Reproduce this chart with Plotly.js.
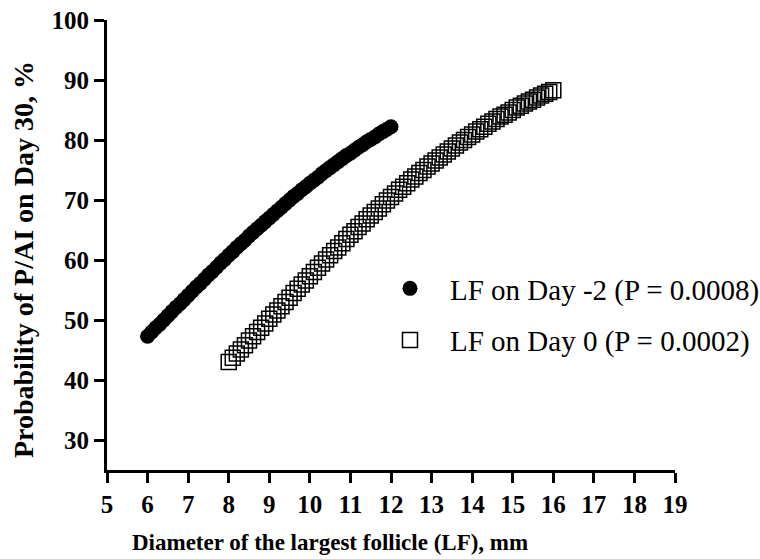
<!DOCTYPE html>
<html>
<head>
<meta charset="utf-8">
<script src="https://cdn.plot.ly/plotly-3.0.1.min.js"></script>
<style>html,body{margin:0;padding:0;background:#fff;}#chart{width:760px;height:559px;}</style>
</head>
<body>
<div id="chart"></div>
<script>
// LF on Day -2 (P = 0.0008)
var xDayMinus2 = [6.0,6.1,6.2,6.3,6.4,6.5,6.6,6.7,6.8,6.9,7.0,7.1,7.2,7.3,7.4,7.5,7.6,7.7,7.8,7.9,8.0,8.1,8.2,8.3,8.4,8.5,8.6,8.7,8.8,8.9,9.0,9.1,9.2,9.3,9.4,9.5,9.6,9.7,9.8,9.9,10.0,10.1,10.2,10.3,10.4,10.5,10.6,10.7,10.8,10.9,11.0,11.1,11.2,11.3,11.4,11.5,11.6,11.7,11.8,11.9,12.0];
var yDayMinus2 = [47.3,48.0,48.7,49.3,50.0,50.7,51.4,52.1,52.7,53.4,54.1,54.8,55.5,56.1,56.8,57.5,58.1,58.8,59.5,60.1,60.8,61.4,62.1,62.7,63.3,64.0,64.6,65.2,65.8,66.4,67.0,67.6,68.2,68.8,69.4,70.0,70.6,71.1,71.7,72.2,72.8,73.3,73.8,74.4,74.9,75.4,75.9,76.4,76.9,77.4,77.8,78.3,78.8,79.2,79.7,80.1,80.5,81.0,81.4,81.8,82.2];
// LF on Day 0 (P = 0.0002)
var xDay0 = [8.0,8.1,8.2,8.3,8.4,8.5,8.6,8.7,8.8,8.9,9.0,9.1,9.2,9.3,9.4,9.5,9.6,9.7,9.8,9.9,10.0,10.1,10.2,10.3,10.4,10.5,10.6,10.7,10.8,10.9,11.0,11.1,11.2,11.3,11.4,11.5,11.6,11.7,11.8,11.9,12.0,12.1,12.2,12.3,12.4,12.5,12.6,12.7,12.8,12.9,13.0,13.1,13.2,13.3,13.4,13.5,13.6,13.7,13.8,13.9,14.0,14.1,14.2,14.3,14.4,14.5,14.6,14.7,14.8,14.9,15.0,15.1,15.2,15.3,15.4,15.5,15.6,15.7,15.8,15.9,16.0];
var yDay0 = [43.0,43.7,44.4,45.1,45.8,46.6,47.3,48.0,48.7,49.4,50.2,50.9,51.6,52.3,53.0,53.7,54.5,55.2,55.9,56.6,57.3,58.0,58.7,59.4,60.1,60.8,61.5,62.1,62.8,63.5,64.2,64.8,65.5,66.1,66.8,67.4,68.0,68.6,69.3,69.9,70.5,71.1,71.7,72.2,72.8,73.4,73.9,74.5,75.0,75.6,76.1,76.6,77.1,77.6,78.1,78.6,79.1,79.6,80.0,80.5,80.9,81.4,81.8,82.2,82.7,83.1,83.5,83.9,84.2,84.6,85.0,85.4,85.7,86.1,86.4,86.7,87.1,87.4,87.7,88.0,88.3];
var seriesNames = ['LF on Day -2 (P = 0.0008)', 'LF on Day 0 (P = 0.0002)'];
var xTicks = [5,6,7,8,9,10,11,12,13,14,15,16,17,18,19];
var yTicks = [30,40,50,60,70,80,90,100];
var xTitle = 'Diameter of the largest follicle (LF), mm';
var yTitle = 'Probability of P/AI on Day 30, %';

var FONT = 'Liberation Serif';

var traces = [
  {x: xDayMinus2, y: yDayMinus2, type: 'scatter', mode: 'markers', name: seriesNames[0],
   legendgroup: 'a',
   marker: {symbol: 'circle', size: 15, color: '#000', line: {width: 0}}},
  {x: xDay0, y: yDay0, type: 'scatter', mode: 'markers', name: seriesNames[1],
   legendgroup: 'b',
   marker: {symbol: 'square-open', size: 15, color: '#000', line: {width: 1.5, color: '#000'}}}
];

var layout = {
  width: 760, height: 559,
  margin: {l: 107, r: 85, t: 20, b: 89, autoexpand: false},
  paper_bgcolor: '#fff', plot_bgcolor: '#fff',
  font: {family: FONT, color: '#000', size: 25, weight: 'bold'},
  showlegend: true,
  legend: {
    x: 0.463, y: 0.460, xanchor: 'left', yanchor: 'top',
    font: {family: FONT, size: 29, color: '#000', weight: 'normal'},
    itemwidth: 70, tracegroupgap: 11, traceorder: 'grouped',
    bgcolor: 'rgba(0,0,0,0)', itemsizing: 'trace'
  },
  xaxis: {
    range: [5, 19], tickmode: 'array', tickvals: xTicks, ticktext: xTicks.map(String),
    showline: true, linecolor: '#000', linewidth: 3,
    ticks: 'outside', ticklen: 10, tickwidth: 3, tickcolor: '#000',
    showgrid: false, zeroline: false, automargin: false,
    tickfont: {family: FONT, size: 25, color: '#000', weight: 'bold'}
  },
  yaxis: {
    range: [25, 100], tickmode: 'array', tickvals: yTicks, ticktext: yTicks.map(String),
    showline: true, linecolor: '#000', linewidth: 3,
    ticks: 'outside', ticklen: 10, tickwidth: 3, tickcolor: '#000',
    showgrid: false, zeroline: false, automargin: false,
    tickfont: {family: FONT, size: 25, color: '#000', weight: 'bold'}
  },
  annotations: [
    {text: xTitle, xref: 'paper', yref: 'paper', x: 0.3926, y: -0.1622,
     xanchor: 'center', yanchor: 'middle', showarrow: false,
     font: {family: FONT, size: 23, color: '#000', weight: 'bold'}},
    {text: yTitle, xref: 'paper', yref: 'paper', x: -0.146, y: 0.4667,
     xanchor: 'center', yanchor: 'middle', showarrow: false, textangle: -90,
     font: {family: FONT, size: 28, color: '#000', weight: 'bold'}}
  ]
};

Plotly.newPlot('chart', traces, layout, {displayModeBar: false, staticPlot: true});
</script>
</body>
</html>
